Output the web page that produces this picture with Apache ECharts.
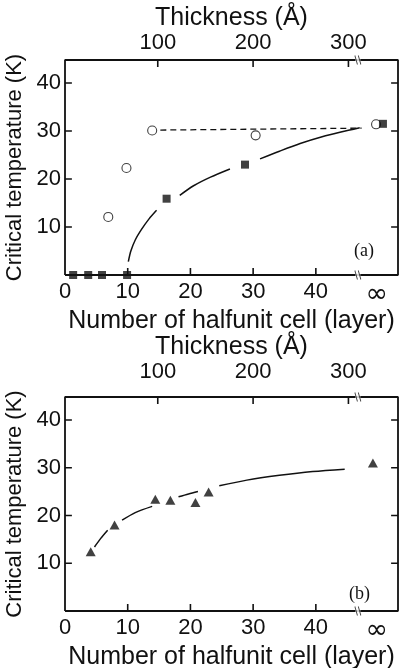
<!DOCTYPE html>
<html>
<head>
<meta charset="utf-8">
<script src="https://cdn.jsdelivr.net/npm/echarts@6/dist/echarts.min.js"></script>
<style>html,body{margin:0;padding:0;background:#fff;}#c{width:399px;height:668px;}</style>
</head>
<body>
<div id="c"></div>
<script>
// ---- data ----
const layerTicks = [0, 10, 20, 30, 40];
const infPos = 49.7;            // position of the "∞" column on the layer axis
const layerTickMarks = [10, 20, 30, 40];
const thickTicks = [100, 200, 300];
const tempTicks = [10, 20, 30, 40];
const breakPos = 46.7;

// panel (a)
const aSquares = [[1.3, 0], [3.7, 0], [5.9, 0], [9.9, 0], [16.2, 15.9], [28.7, 23.0], [50.7, 31.5]];
const aCircles = [[6.9, 12.1], [9.8, 22.3], [13.9, 30.1], [30.4, 29.1], [49.6, 31.4]];
const aDashed = [[15.2, 30.2], [47.3, 30.6]];
const aCurve = [
  [10.1, 2.8], [10.5, 5.0], [11.2, 7.3], [12.2, 9.5], [13.4, 11.7], [14.6, 13.5], null,
  [18.3, 16.6], [20.5, 18.6], [23.2, 20.4], [26.3, 22.1], null,
  [31.1, 24.2], [34.2, 25.8], [37.5, 27.4], [41.0, 28.8], [44.0, 29.8], [47.0, 30.7]
];

// panel (b)
const bTriangles = [[4.1, 12.4], [7.9, 18.0], [14.4, 23.4], [16.8, 23.2], [20.8, 22.7], [22.9, 24.9], [49.1, 31.0]];
const bCurve = [
  [4.7, 13.4], [5.7, 15.2], [6.8, 16.9], null,
  [9.1, 19.0], [11.2, 20.6], [13.9, 21.9], null,
  [18.1, 23.9], [19.7, 24.5], [21.2, 25.0], null,
  [24.6, 26.2], [29.0, 27.4], [34.2, 28.4], [39.5, 29.2], [44.6, 29.7]
];

const X_MAX = 53.1, Y_MAX = 44.8, T_MIN = 2.7, T_MAX = 352;
const FONT = 'Liberation Sans';
const INK = '#111';
// tick length expressed in each axis' own units (about 7 px)
const TICK_X = 1.1, TICK_Y = 1.45;

function xBottom(grid, nameGap) {
  return {
    type: 'value', gridIndex: grid, position: 'bottom', min: 0, max: X_MAX,
    name: 'Number of halfunit cell (layer)', nameLocation: 'middle', nameGap: nameGap,
    nameTextStyle: { fontFamily: FONT, fontSize: 25, color: INK },
    axisLine: { show: false, onZero: false }, axisTick: { show: false },
    axisLabel: {
      customValues: layerTicks.concat([infPos]), margin: 6,
      fontFamily: FONT, fontSize: 22, color: INK,
      formatter: v => v === infPos ? '{inf|∞}' : String(v),
      rich: { inf: { fontFamily: 'DejaVu Sans', fontSize: 27, color: INK } }
    },
    splitLine: { show: false }
  };
}
function xTop(grid, nameGap, margin) {
  return {
    type: 'value', gridIndex: grid, position: 'top', min: T_MIN, max: T_MAX,
    name: 'Thickness (Å)', nameLocation: 'middle', nameGap: nameGap,
    nameTextStyle: { fontFamily: FONT, fontSize: 25, color: INK },
    axisLine: { show: false, onZero: false }, axisTick: { show: false },
    axisLabel: { customValues: thickTicks, margin: margin, fontFamily: FONT, fontSize: 22, color: INK },
    splitLine: { show: false }
  };
}
function yLeft(grid) {
  return {
    type: 'value', gridIndex: grid, position: 'left', min: 0, max: Y_MAX,
    name: 'Critical temperature (K)', nameLocation: 'middle', nameGap: 32,
    nameTextStyle: { fontFamily: FONT, fontSize: 22, color: INK },
    axisLine: { show: false, onZero: false }, axisTick: { show: false },
    axisLabel: { customValues: tempTicks, margin: 4, fontFamily: FONT, fontSize: 22, color: INK },
    splitLine: { show: false }
  };
}

// frame + inward ticks drawn as line series through the axes' scales
function frameSeries(xi, xiTop, yi) {
  const box = [[0, 0], [X_MAX, 0], [X_MAX, Y_MAX], [0, Y_MAX], [0, 0]];
  const ticks = [];
  tempTicks.forEach(v => { ticks.push([0, v], [TICK_X, v], null, [X_MAX, v], [X_MAX - TICK_X, v], null); });
  layerTickMarks.forEach(v => { ticks.push([v, 0], [v, TICK_Y], null); });
  const topTicks = [];
  thickTicks.forEach(v => { topTicks.push([v, Y_MAX], [v, Y_MAX - TICK_Y], null); });
  const base = { type: 'line', yAxisIndex: yi, symbol: 'none', showSymbol: false, clip: false,
    connectNulls: false, silent: true, z: 3 };
  return [
    Object.assign({}, base, { xAxisIndex: xi, data: box, lineStyle: { color: INK, width: 1.8 } }),
    Object.assign({}, base, { xAxisIndex: xi, data: ticks, lineStyle: { color: INK, width: 1.6 } }),
    Object.assign({}, base, { xAxisIndex: xiTop, data: topTicks, lineStyle: { color: INK, width: 1.6 } })
  ];
}

function breakSeries(xi, yi) {
  const pts = [[breakPos, 0], [breakPos, Y_MAX]];
  return [
    { type: 'scatter', xAxisIndex: xi, yAxisIndex: yi, data: pts, z: 5,
      symbol: 'rect', symbolSize: [5, 4], itemStyle: { color: '#fff' } },
    { type: 'scatter', xAxisIndex: xi, yAxisIndex: yi, data: pts, z: 6,
      symbol: 'path://M0,0 L3,10 M4,0 L7,10', symbolSize: [6, 9],
      itemStyle: { color: 'none', borderColor: INK, borderWidth: 1.1 } }
  ];
}

const chart = echarts.init(document.getElementById('c'), null, { renderer: 'canvas' });
chart.setOption({
  backgroundColor: '#fff',
  animation: false,
  grid: [
    { left: 65, top: 60, width: 333, height: 215, outerBoundsMode: 'none' },
    { left: 65, top: 397, width: 333, height: 214, outerBoundsMode: 'none' }
  ],
  title: [
    { text: '(a)', left: 349, top: 237, textStyle: { fontFamily: 'Liberation Serif', fontSize: 18, fontWeight: 'normal', color: INK } },
    { text: '(b)', left: 344, top: 580, textStyle: { fontFamily: 'Liberation Serif', fontSize: 18, fontWeight: 'normal', color: INK } }
  ],
  xAxis: [xBottom(0, 28), xTop(0, 26, 6), xBottom(1, 23), xTop(1, 27, 14)],
  yAxis: [yLeft(0), yLeft(1)],
  series: [
    { type: 'line', xAxisIndex: 0, yAxisIndex: 0, data: aCurve, showSymbol: false, symbol: 'none',
      connectNulls: false, smooth: 0.3, lineStyle: { color: INK, width: 1.5 } },
    { type: 'line', xAxisIndex: 0, yAxisIndex: 0, data: aDashed, symbol: 'none',
      lineStyle: { color: INK, width: 1.3, type: [6, 4] } },
    { type: 'scatter', xAxisIndex: 0, yAxisIndex: 0, data: aCircles, symbol: 'circle', symbolSize: 9, z: 4,
      itemStyle: { color: '#fff', borderColor: INK, borderWidth: 1.1 } },
    { type: 'scatter', xAxisIndex: 0, yAxisIndex: 0, data: aSquares, symbol: 'rect', symbolSize: 8, z: 4,
      itemStyle: { color: INK } },
    { type: 'line', xAxisIndex: 2, yAxisIndex: 1, data: bCurve, showSymbol: false, symbol: 'none',
      connectNulls: false, smooth: 0.3, lineStyle: { color: INK, width: 1.5 } },
    { type: 'scatter', xAxisIndex: 2, yAxisIndex: 1, data: bTriangles, symbol: 'triangle', symbolSize: [10, 9], z: 4,
      itemStyle: { color: INK } }
  ].concat(frameSeries(0, 1, 0), frameSeries(2, 3, 1), breakSeries(0, 0), breakSeries(2, 1))
});
</script>
</body>
</html>
